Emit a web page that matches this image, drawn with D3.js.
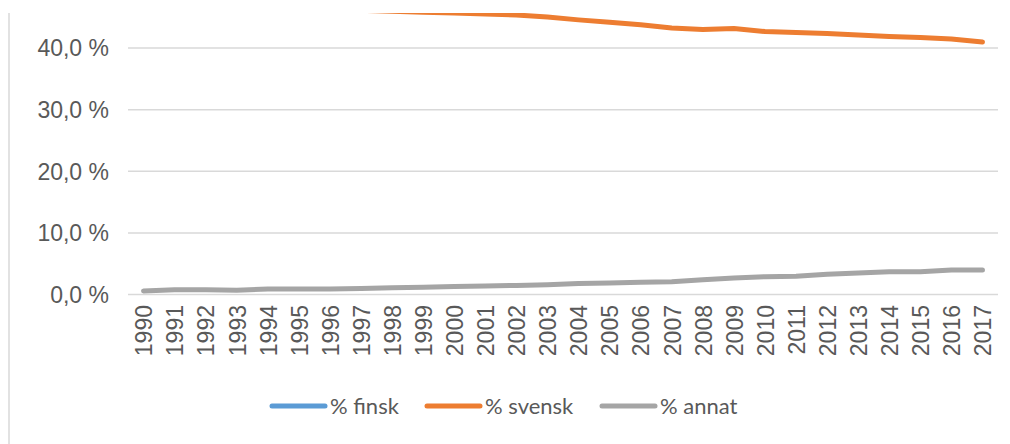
<!DOCTYPE html>
<html>
<head>
<meta charset="utf-8">
<script src="https://cdn.jsdelivr.net/npm/d3@7"></script>
<style>
  body { margin: 0; background: #fff; }
  svg { display: block; }
  .tick text { fill: #595959; font-family: "Liberation Sans", Arial, sans-serif; }
</style>
</head>
<body>
<svg id="chart" width="1010" height="444"></svg>
<script>
const years = d3.range(1990, 2018).map(String);

const finsk = [52.1, 52.1, 52.3, 52.6, 52.6, 52.8, 53.0, 53.05, 53.1, 53.15, 53.2, 53.25, 53.3, 53.55,
  53.8, 54.1, 54.4, 54.8, 54.75, 54.3, 54.6, 54.65, 54.5, 54.55, 54.6, 54.75, 54.7, 55.2];
const svensk = [47.4, 47.2, 47.0, 46.8, 46.6, 46.4, 46.2, 46.05, 45.9, 45.75, 45.6, 45.45, 45.3, 44.95,
  44.5, 44.1, 43.7, 43.2, 42.95, 43.1, 42.6, 42.45, 42.3, 42.05, 41.8, 41.65, 41.4, 40.9];
const annat = [0.5, 0.7, 0.7, 0.6, 0.8, 0.8, 0.8, 0.9, 1.0, 1.1, 1.2, 1.3, 1.4, 1.5,
  1.7, 1.8, 1.9, 2.0, 2.3, 2.6, 2.8, 2.9, 3.2, 3.4, 3.6, 3.6, 3.9, 3.9];

const yTicks = [0, 10, 20, 30, 40];

const series = [
  { name: '% finsk', values: finsk, color: '#5B9BD5' },
  { name: '% svensk', values: svensk, color: '#ED7D31' },
  { name: '% annat', values: annat, color: '#A5A5A5' }
];

const svg = d3.select('#chart');
const plot = { left: 128, right: 998, top: 13, bottom: 294 };

// chart frame left edge (the rest is cropped away)
svg.append('line')
  .attr('x1', 9).attr('x2', 9).attr('y1', 13).attr('y2', 444)
  .attr('stroke', '#D9D9D9').attr('stroke-width', 1.5);

const x = d3.scalePoint()
  .domain(years)
  .range([plot.left, plot.right])
  .padding(0.5);

const y = d3.scaleLinear()
  .domain([0, 50])
  .range([plot.bottom, plot.bottom - 50 * 6.16]);

const fmt = v => d3.format('.1f')(v).replace('.', ',') + ' %';

// y axis with gridlines
const yAxisG = svg.append('g')
  .attr('transform', `translate(${plot.left},0)`)
  .call(d3.axisLeft(y).tickValues(yTicks).tickFormat(fmt)
    .tickSize(-(plot.right - plot.left)).tickPadding(19));
yAxisG.select('.domain').remove();
yAxisG.selectAll('.tick line').attr('stroke', '#D9D9D9').attr('stroke-width', 1.5);
yAxisG.selectAll('.tick text').style('font-size', '23px').attr('dy', '0.36em');

// x axis, rotated year labels
const xAxisG = svg.append('g')
  .attr('transform', `translate(0,${plot.bottom})`)
  .call(d3.axisBottom(x).tickSize(0));
xAxisG.select('.domain').remove();
xAxisG.selectAll('.tick text')
  .style('font-size', '23px')
  .style('text-anchor', 'end')
  .attr('transform', 'rotate(-90)')
  .attr('x', -11)
  .attr('y', 0)
  .attr('dy', '0.36em');

// lines, clipped at the cropped top of the picture
svg.append('clipPath').attr('id', 'clip')
  .append('rect')
  .attr('x', 0).attr('y', plot.top)
  .attr('width', 1010).attr('height', 444 - plot.top);

const line = d3.line()
  .x((d, i) => x(years[i]))
  .y(d => y(d));

svg.append('g').attr('clip-path', 'url(#clip)')
  .selectAll('path')
  .data(series)
  .join('path')
  .attr('d', d => line(d.values))
  .attr('fill', 'none')
  .attr('stroke', d => d.color)
  .attr('stroke-width', 5)
  .attr('stroke-linecap', 'round')
  .attr('stroke-linejoin', 'round');

// legend
const legendX = [270, 425, 600];
const legend = svg.append('g')
  .selectAll('g')
  .data(series)
  .join('g')
  .attr('transform', (d, i) => `translate(${legendX[i]},406)`);

legend.append('line')
  .attr('x1', 2).attr('x2', 55)
  .attr('stroke', d => d.color)
  .attr('stroke-width', 5)
  .attr('stroke-linecap', 'round');

legend.append('text')
  .attr('x', 60)
  .attr('dy', '0.35em')
  .attr('fill', '#595959')
  .style('font-family', 'Lato, "Open Sans", sans-serif')
  .style('font-size', '22px')
  .text(d => d.name);
</script>
</body>
</html>
